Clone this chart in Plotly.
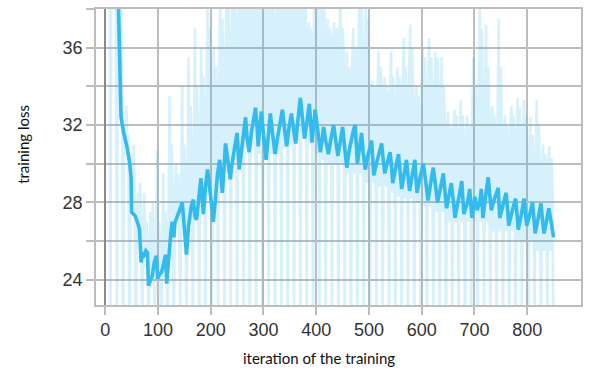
import plotly.graph_objects as go

# ---- data -------------------------------------------------------------
raw_iter = list(range(0, 851, 2))
raw_loss = [
    72, 68, 64, 60, 56, 20,
    52, 48, 45, 42, 40, 21,
    39, 36, 34, 38.5, 33, 20,
    32, 31, 33, 30.5, 31.5, 21,
    29, 30.5, 28, 31, 28.5, 20,
    27, 28.5, 26.5, 29, 27.5, 21,
    26, 28.5, 25.5, 27, 26, 20,
    25, 27.5, 24.5, 28, 25.5, 21,
    25, 30.7, 24.5, 27, 25.5, 20,
    25.5, 29.5, 24.8, 27.5, 26, 21,
    27, 33.5, 26, 31, 28, 20,
    28, 30, 27, 29.5, 28.5, 21,
    28.5, 34, 27, 31, 29, 20,
    29, 35.5, 27.5, 33, 30, 21,
    30, 37, 28, 34, 31.5, 20,
    31, 36, 28.5, 34.5, 32, 21,
    33, 39.5, 28.5, 37, 34, 20,
    32, 36, 28.5, 35, 33.5, 21,
    34, 39, 29, 37.5, 35, 20,
    35, 39.5, 29.5, 38.5, 36, 21,
    36, 40, 30, 39, 37, 20,
    36, 40.5, 30.5, 39, 38, 21,
    37, 41, 30.8, 39.5, 37.5, 20,
    36.5, 40, 31, 39, 38.5, 21,
    37, 41, 30.5, 38.5, 39.5, 20,
    36, 40, 30.2, 39, 38, 21,
    37, 41, 30.5, 39.5, 36.5, 20,
    36.5, 40, 30.5, 39, 38, 21,
    37.5, 41, 30.8, 40, 37, 20,
    37, 40.5, 31, 39, 38.5, 21,
    38, 41.5, 31.2, 40, 37.5, 20,
    37.5, 41, 31.3, 39.5, 38.5, 21,
    36.5, 37.3, 31, 37, 36, 20,
    38, 40.5, 30.5, 39, 37.5, 21,
    37, 40, 30.2, 38.5, 37.5, 20,
    36, 37.5, 30, 37, 36.5, 21,
    35.5, 37.3, 30, 36.5, 37, 20,
    36, 39.5, 30, 37, 36, 21,
    34, 35.8, 29.5, 35, 34.5, 20,
    35, 37, 29.5, 36, 35.5, 21,
    35, 39.5, 29.5, 38, 36, 20,
    35, 39, 29, 37.5, 34, 21,
    33, 34.3, 29, 34, 33.5, 20,
    33.5, 35.8, 28.8, 35, 34, 21,
    33, 34.5, 28.8, 34, 33.5, 20,
    33, 35.8, 28.5, 34.5, 33, 21,
    33, 35, 28.3, 34.5, 33.5, 20,
    34, 36.5, 28.2, 35, 33, 21,
    34, 37.2, 28.2, 36, 33.5, 20,
    32.5, 34, 28, 33.5, 32.5, 21,
    34, 36, 27.8, 35.5, 33, 20,
    34, 36.5, 27.8, 35.5, 33, 21,
    34, 35.8, 27.5, 35.5, 34, 20,
    33, 35.5, 27.5, 34, 32, 21,
    31, 32.7, 27, 32, 31.5, 20,
    31.5, 32.8, 27, 32.5, 31, 21,
    31.5, 33.3, 27, 32.5, 31, 20,
    31, 32.5, 27, 32, 31.5, 21,
    33, 35.5, 27, 34, 32, 20,
    34, 39, 27, 37, 33, 21,
    33.5, 37.2, 27, 35, 32.5, 20,
    31.5, 33, 26.5, 32.5, 31, 21,
    33, 37.5, 26.5, 35, 32, 20,
    31, 32.5, 26.5, 32, 30.5, 21,
    31.5, 33, 26.5, 32.5, 31, 20,
    31.5, 33.4, 26, 32.9, 31, 21,
    31, 33.3, 26, 32.5, 30.5, 20,
    30.5, 32.4, 26, 31.5, 30, 21,
    30.5, 33.3, 25.5, 32, 30, 20,
    29.5, 31, 25.5, 30.5, 29, 21,
    30, 30.9, 25.5, 30.3, 28.5, 20,
]

smooth_iter = [
    0, 10, 20, 25, 30, 35, 41, 46, 49, 50, 53, 57, 62, 65, 68, 71, 74, 77, 80, 82,
    86, 89, 93, 97, 99.5, 103, 107, 111, 114.5, 116.5, 120, 124, 127, 130, 132, 136, 141, 146, 150, 154,
    158, 163, 167, 170, 173, 177, 181.5, 184, 186, 190, 194, 197, 201, 205, 209, 213, 217, 220, 222, 225,
    228, 232, 237, 241, 245, 250, 254, 259, 262, 266, 269, 273, 277, 281, 285, 288, 290, 293, 296, 300,
    305, 309, 313, 317, 322, 327, 331, 336, 340, 344, 348, 353, 357, 361, 365, 370, 374, 378, 383, 387,
    392, 395, 398, 403, 408, 411, 414, 418, 423, 428, 433, 437, 441, 446, 450, 454, 458, 462, 467, 471,
    474, 476, 478, 482, 486, 489, 493, 497, 501, 505, 507, 509, 514, 519, 524, 527, 530, 535, 540, 543,
    545, 550, 556, 559, 562, 567, 571, 574, 577, 582, 587, 589, 591, 597, 603, 608, 612, 617, 622, 626,
    630, 636, 641, 644, 647, 652, 656, 660, 663, 670, 676, 678, 680, 687, 691, 695, 701, 705, 710, 713,
    716, 721, 726, 729, 732, 738, 745, 748, 754, 760, 763, 765, 771, 778, 781, 783, 789, 794, 797, 799,
    805, 810, 813, 815, 821, 826, 829, 832, 837, 841, 846, 850,
]
smooth_loss = [
    62, 51, 43, 38.2, 32.4, 31.6, 30.9, 30.1, 29.3, 27.5, 27.4, 27.3, 26.9, 26.6, 24.9, 25.4, 25.3, 25.5, 25.4, 23.7,
    24.0, 24.2, 24.9, 25.25, 24.05, 24.3, 24.4, 25.0, 25.3, 23.8, 25.2, 26.3, 27.0, 26.2, 26.95, 27.3, 27.6, 28.0, 26.5, 25.3,
    26.8, 27.8, 28.15, 27.3, 27.1, 28.2, 29.25, 28.3, 27.4, 28.8, 29.7, 29.0, 28.0, 27.0, 28.2, 29.5, 30.2, 29.2, 28.5, 29.7,
    31.05, 30.3, 29.2, 30.1, 30.9, 31.6, 29.7, 30.8, 31.7, 32.4, 31.3, 30.6, 31.6, 32.3, 32.9, 31.8, 30.9, 31.9, 32.7, 31.5,
    30.2, 31.4, 32.6, 31.6, 30.5, 31.4, 32.1, 32.8, 31.8, 30.9, 31.8, 32.6, 31.8, 31.05, 32.2, 33.4, 32.3, 31.3, 32.3, 33.1,
    31.1, 32.0, 32.8, 31.7, 30.6, 31.2, 31.9, 31.2, 30.5, 31.3, 32.0, 31.2, 30.4, 31.2, 31.9, 30.8, 29.8, 30.6, 31.3, 31.8,
    32.0, 31.0, 30.0, 30.8, 31.6, 30.6, 29.7, 30.3, 30.8, 31.2, 30.3, 29.4, 30.0, 30.6, 31.05, 30.2, 29.5, 30.1, 30.6, 29.8,
    29.0, 29.7, 30.5, 29.6, 28.7, 29.5, 30.2, 29.4, 28.6, 29.4, 30.2, 29.3, 28.5, 29.3, 30.0, 29.0, 28.1, 29.0, 29.8, 28.9,
    28.0, 28.8, 29.5, 28.6, 27.7, 28.4, 29.0, 28.1, 27.2, 28.2, 29.1, 28.2, 27.4, 28.0, 28.7, 27.2, 28.3, 27.6, 28.0, 28.7,
    27.2, 28.3, 29.3, 28.4, 27.6, 28.2, 28.75, 27.2, 27.9, 28.5, 27.6, 26.8, 27.5, 28.2, 27.3, 26.6, 27.4, 28.2, 27.4, 26.8,
    27.4, 28.0, 27.1, 26.4, 27.2, 27.95, 27.1, 26.4, 27.1, 27.7, 26.9, 26.2,
]

x_ticks = [0, 100, 200, 300, 400, 500, 600, 700, 800]
y_ticks = [24, 28, 32, 36]
x_title = "iteration of the training"
y_title = "training loss"

# ---- figure -----------------------------------------------------------
LINE = "#33bbee"
GRID = "#bdbdbd"

fig = go.Figure()
fig.add_trace(go.Scatter(
    x=raw_iter, y=raw_loss, mode="lines",
    line=dict(color="rgba(51,187,238,0.2)", width=2.6),
    hoverinfo="skip", showlegend=False,
))
fig.add_trace(go.Scatter(
    x=smooth_iter, y=smooth_loss, mode="lines",
    line=dict(color=LINE, width=3.6),
    showlegend=False,
))

tick_font = dict(family="Liberation Sans, Arial, sans-serif", size=18, color="#333333")
title_font = dict(family="Lato, sans-serif", size=15, color="#111111")

fig.update_layout(
    width=590, height=373,
    margin=dict(l=96, r=7, t=8, b=68),
    paper_bgcolor="white", plot_bgcolor="white",
    xaxis=dict(
        range=[-17.5, 902],
        tickmode="array", tickvals=x_ticks,
        ticks="outside", ticklen=8, tickwidth=1.5, tickcolor=GRID,
        showgrid=True, gridcolor=GRID, gridwidth=1.5,
        zeroline=True, zerolinecolor="#8a8a8a", zerolinewidth=2,
        showline=True, linecolor=GRID, linewidth=1.5, mirror=True,
        tickfont=tick_font,
    ),
    yaxis=dict(
        range=[22.7, 38.0],
        tickmode="array", tickvals=y_ticks,
        ticks="outside", ticklen=8, tickwidth=1.5, tickcolor=GRID,
        showgrid=True, gridcolor=GRID, gridwidth=1.5,
        minor=dict(dtick=2, tick0=22, ticks="outside", ticklen=8, tickwidth=1.5,
                   tickcolor=GRID, showgrid=True, gridcolor=GRID, gridwidth=1.5),
        zeroline=False,
        showline=True, linecolor=GRID, linewidth=1.5, mirror=True,
        tickfont=tick_font,
    ),
    annotations=[
        dict(text=x_title, xref="paper", yref="paper",
             x=(319.5 - 96) / 487, y=(305 - 358) / 297,
             xanchor="center", yanchor="middle", showarrow=False, font=title_font),
        dict(text=y_title, xref="paper", yref="paper",
             x=(22 - 96) / 487, y=(305 - 144) / 297, textangle=-90,
             xanchor="center", yanchor="middle", showarrow=False, font=title_font),
    ],
)

fig.write_html("out.html")
